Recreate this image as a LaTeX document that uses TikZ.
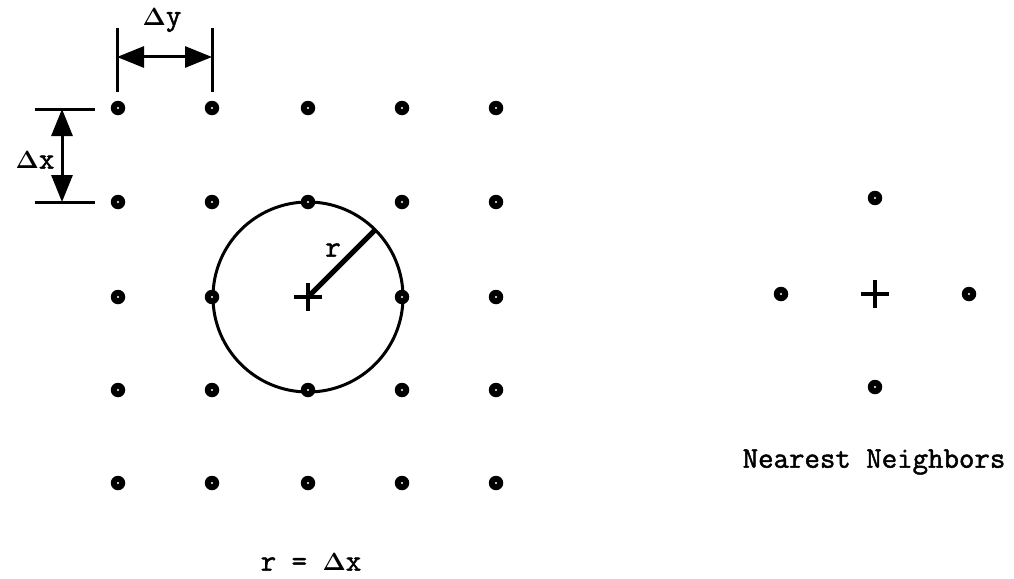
\documentclass[tikz,border=0pt]{standalone}
\usepackage{fontspec}
\newfontfamily\courb{Latin Modern Mono}[FakeBold=1.6]
\usetikzlibrary{arrows.meta,calc}
\begin{document}
\begin{tikzpicture}[x=1pt,y=-1pt,
  gdot/.style={circle,fill=black,inner sep=0pt,minimum size=14.5pt,
    path picture={\fill[white] (path picture bounding box.center) circle (1.1pt);}},
  cross/.style={inner sep=0pt,minimum size=28pt,
    path picture={\draw[line width=3.5pt] (path picture bounding box.west) -- (path picture bounding box.east)
      (path picture bounding box.north) -- (path picture bounding box.south);}},
  dimline/.style={line width=3pt},
  dimarrow/.style={line width=3pt,{Triangle[length=27pt,width=21pt]}-{Triangle[length=27pt,width=21pt]}},
  lbl/.style={font=\fontsize{30}{32}\selectfont\courb\boldmath,inner sep=0pt}]
\useasboundingbox (0,0) rectangle (1014,578);
% circle and radius
\node[cross] (ctr) at (308,297) {};
\draw[line width=3pt] (ctr.center) circle (95);
\coordinate (redge) at ($(ctr.center)+(-45:95)$);
\draw[line width=5pt] (ctr.center) -- (redge);
\node[lbl] (rlab) at (333,250) {r};
% grid of dots (no dot at the centre)
\foreach \c/\x in {1/118,2/212,3/308,4/402,5/496}{
  \foreach \r/\y in {1/108,2/202,3/297,4/390,5/483}{
    \ifnum\r\c=33\relax\else
    \node[gdot] (d\r\c) at (\x,\y) {};
    \fi
  }
}
% Delta y dimension
\coordinate (ya1) at (117,28);
\coordinate (yb1) at (117,92);
\coordinate (ya2) at (212,28);
\coordinate (yb2) at (212,92);
\draw[dimline] (ya1) -- (yb1);
\draw[dimline] (ya2) -- (yb2);
\coordinate (yl) at (117,57);
\coordinate (yr) at (212,57);
\draw[dimarrow] (yl) -- (yr);
\node[lbl] (dylab) at (162,20) {$\Delta$y};
% Delta x dimension
\coordinate (xa1) at (35,109);
\coordinate (xb1) at (95,109);
\coordinate (xa2) at (35,202);
\coordinate (xb2) at (95,202);
\draw[dimline] (xa1) -- (xb1);
\draw[dimline] (xa2) -- (xb2);
\coordinate (xt) at (62,109);
\coordinate (xbm) at (62,202);
\draw[dimarrow] (xt) -- (xbm);
\node[lbl] (dxlab) at (35,160) {$\Delta$x};
% formula
\node[lbl] (formula) at (311,562) {r = $\Delta$x};
% nearest neighbors
\node[cross] (nctr) at (875,294) {};
\node[gdot] (nn) at (875,198) {};
\node[gdot] (nw) at (781,294) {};
\node[gdot] (ne) at (969,294) {};
\node[gdot] (ns) at (875,387) {};
\node[lbl] (nlab) at (874,462) {Nearest Neighbors};
\end{tikzpicture}
\end{document}
